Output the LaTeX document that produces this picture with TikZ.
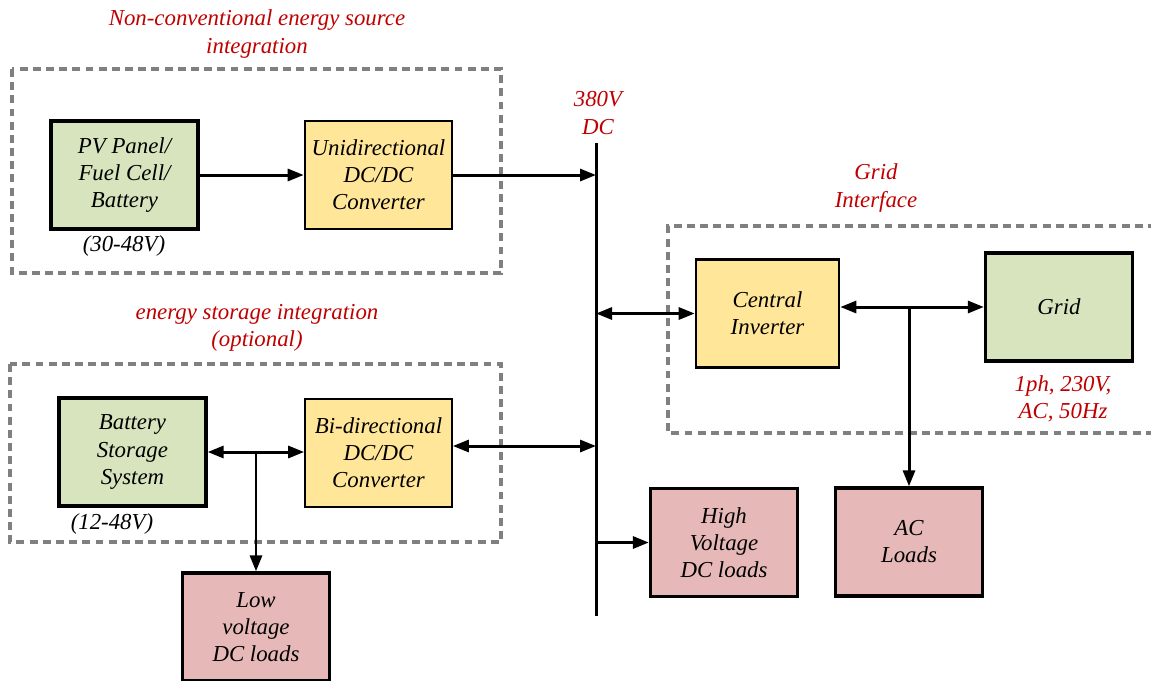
\documentclass[tikz,border=0pt]{standalone}
\usepackage{fontspec}
\setmainfont{Liberation Serif}
\usetikzlibrary{arrows.meta}

\definecolor{srcGreen}{HTML}{D7E4BD}
\definecolor{convYellow}{HTML}{FFE699}
\definecolor{loadRed}{HTML}{E6B9B8}
\definecolor{titleRed}{HTML}{C00000}

\tikzstyle{block}=[rectangle, draw=black, line width=1.9pt, minimum width=2.94cm, minimum height=2.16cm, align=center, inner sep=0pt, font=\fontsize{13}{15.4}\selectfont\itshape]
\tikzstyle{source}=[fill=srcGreen]
\tikzstyle{converter}=[fill=convYellow]
\tikzstyle{load}=[fill=loadRed]
\tikzstyle{title}=[text=titleRed, align=center, inner sep=0pt, font=\fontsize{13}{15.4}\selectfont\itshape]
\tikzstyle{note}=[align=center, inner sep=0pt, font=\fontsize{13}{15.4}\selectfont\itshape]
\tikzstyle{group}=[draw=black!50, line width=2.2pt, dash pattern=on 4.5pt off 3pt]
\tikzstyle{wire}=[line width=1.7pt]

\begin{document}
\begin{tikzpicture}[x=0.02cm, y=-0.02cm, >={Triangle[length=3.2mm, width=2.4mm]}]

	\useasboundingbox (0,0) rectangle (1151,680);

	% Gruppen
	\draw[group] (12,69) rectangle (501,273);
	\draw[group] (10,364) rectangle (501,542);
	\draw[group] (1156,226) -- (668,226) -- (668,433) -- (1156,433);

	\node(srcTitle) at (257,34) [title] {Non-conventional energy source\\integration};
	\node(stoTitle) at (257,328) [title] {energy storage integration\\(optional)};
	\node(gridTitle) at (876,188) [title] {Grid\\Interface};
	\node(busTitle) at (598,113) [title] {380V\\DC};
	\node(gridNote) at (1063,399) [title] {1ph, 230V,\\AC, 50Hz};

	% Obere Reihe
	\node(pv) at (124.5,175) [block, source] {PV Panel/\\Fuel Cell/\\Battery};
	\node(uni) at (378.5,175) [block, converter, line width=1.5pt] {Unidirectional\\DC/DC\\Converter};
	\node(pvNote) at (124,246) [note] {(30-48V)};

	% Speicher
	\node(bat) at (132.5,452) [block, source] {Battery\\Storage\\System};
	\node(bidir) at (378.5,453) [block, converter, line width=1pt] {Bi-directional\\DC/DC\\Converter};
	\node(batNote) at (112,524) [note] {(12-48V)};
	\node(lvLoad) at (256,627) [block, load] {Low\\voltage\\DC loads};

	% Netz
	\node(inv) at (767.5,313.5) [block, converter, minimum width=2.86cm, line width=1.5pt] {Central\\Inverter};
	\node(grid) at (1059,307) [block, source] {Grid};
	\node(hvLoad) at (724,542.5) [block, load] {High\\Voltage\\DC loads};
	\node(acLoad) at (909,542) [block, load] {AC\\Loads};

	% DC-Bus
	\coordinate(busTop) at (596,143);
	\coordinate(busBot) at (596,616);
	\draw[wire] (busTop) -- (busBot);

	% Pfeile
	\draw[wire, ->] (pv) -- (uni);
	\draw[wire, ->] (uni) -- (uni -| busTop);
	\draw[wire, <->] ([yshift=0.14cm]bidir.east) -- ([yshift=0.14cm]bidir.east -| busTop);
	\draw[wire, <->] (inv.west -| busTop) -- (inv.west);
	\draw[wire, ->] (hvLoad.west -| busTop) -- (hvLoad.west);

	\coordinate(batJoin) at (bat.east -| lvLoad);
	\draw[wire, <->] (bat.east) -- (bidir.west |- bat.east);
	\draw[wire, ->] (batJoin) -- (lvLoad.north);

	\coordinate(gridJoin) at (grid.west -| acLoad);
	\draw[wire, <->] (inv.east |- grid.west) -- (grid.west);
	\draw[wire, ->] (gridJoin) -- (acLoad.north);

\end{tikzpicture}
\end{document}
